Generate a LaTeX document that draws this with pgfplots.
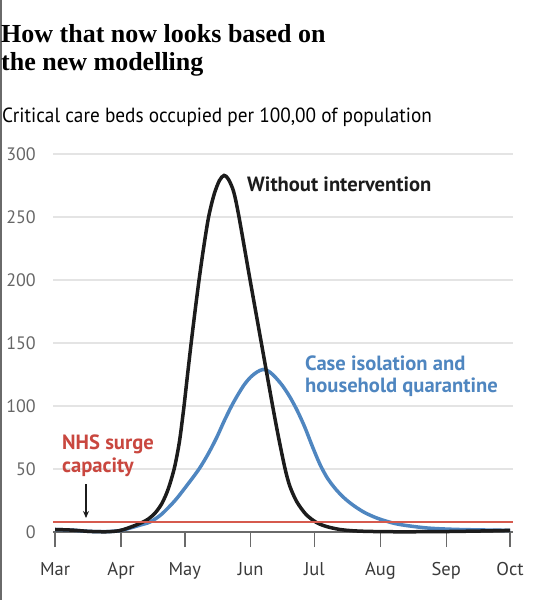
\documentclass[border=0pt]{standalone}
\usepackage{fontspec}
\setmainfont{Liberation Serif}
\newfontfamily\labfont[FakeStretch=0.94]{PT Sans}
\newfontfamily\labw{PT Sans}
\usepackage{pgfplots}
\pgfplotsset{compat=1.18}
\usetikzlibrary{arrows.meta}
\definecolor{cblue}{HTML}{4F86C0}
\definecolor{cred}{HTML}{D65A4E}
\definecolor{tred}{HTML}{C9473F}
\definecolor{cblack}{HTML}{1C1C1C}
\definecolor{tgrey}{HTML}{666666}
\definecolor{xgrey}{HTML}{3A3A3A}
\definecolor{ggrey}{HTML}{E4E4E4}
\definecolor{agrey}{HTML}{6A6A6A}
\begin{document}
\begin{tikzpicture}[x=1bp,y=1bp]
\path[use as bounding box] (0,0) rectangle (534,-600);
\fill[agrey] (0,0) rectangle (2,-600);
\node[anchor=base west,inner sep=0] at (1,-42.6) {\fontsize{26bp}{28bp}\selectfont\bfseries How that now looks based on};
\node[anchor=base west,inner sep=0] at (1,-70.5) {\fontsize{26bp}{28bp}\selectfont\bfseries the new modelling};
\node[anchor=base west,inner sep=0] at (2,-122.6) {\labfont\fontsize{20.5bp}{22bp}\selectfont Critical care beds occupied per 100,00 of population};
\begin{axis}[
  at={(53bp,-532bp)}, anchor=south west,
  scale only axis, width=460bp, height=378bp,
  xmin=-1, xmax=215.4, ymin=0, ymax=300,
  clip=false,
  axis x line*=bottom, axis y line*=left,
  y axis line style={draw=none},
  x axis line style={agrey, line width=1.5bp},
  xtick={0,31,61,92,122,153,184,214},
  xticklabels={Mar,Apr,May,Jun,Jul,Aug,Sep,Oct},
  ytick={0,50,100,150,200,250,300},
  ymajorgrids,
  grid style={ggrey, line width=1.5bp},
  tick align=outside,
  x tick style={agrey, line width=1.5bp},
  major tick length=15bp,
  y tick style={draw=none},
  /pgf/number format/assume math mode=true,
  yticklabel style={font=\labw\fontsize{18bp}{19bp}\selectfont, text=tgrey, anchor=east, inner sep=0pt, xshift=-2bp},
  xticklabel style={font=\labw\fontsize{18.5bp}{20bp}\selectfont, text=xgrey, anchor=north, inner sep=0pt, text height=13bp, text depth=0pt, yshift=-15bp},
]
\addplot[cblue, line width=3.5bp, smooth] coordinates {
(0,2) (8,1.5) (16,0.5) (24,0.3) (30,1) (35,3) (40,5.5) (44.7,8) (50,14) (56.4,25) (62,37) (67.7,50) (72,62) (76,75) (79.5,88) (83,100) (86,109) (89,117) (92,123) (95,127) (97.8,129) (100.5,127.5) (103.5,123) (107,116) (110.5,107) (114,96) (117.5,83) (121,68) (124.5,54) (128,43) (132,34) (136,27) (140,21.5) (145,16) (150,12) (155,9) (162,6) (175,3.2) (190,2) (214,1.3)
};
\addplot[cblack, line width=3.5bp, smooth] coordinates {
(0,2) (8,1.5) (16,0.5) (24,0.2) (30,1) (34,3) (38,5.5) (41.4,8) (44,10.5) (47,15) (50,22) (52.5,31) (54.5,41) (56.4,53) (58.5,72) (60.5,98) (62.3,125) (64,150) (65.8,175) (67.7,200) (69.8,225) (72.2,250) (74.8,268) (77.3,279) (79.5,283) (81.5,280) (84,270) (86.5,250) (91.5,202) (96.8,152) (102,103) (105,76) (108.2,50) (110.5,36) (113.7,24) (118,14) (123,7.5) (128,4.2) (134,2) (140,1) (147,0.5) (160,0.2) (180,0.3) (200,0.8) (214,1.3)
};
\addplot[cred, line width=2.8bp] coordinates {(-1,8) (215.4,8)};
\end{axis}
\node[anchor=base west,inner sep=0,text=cblack] at (247,-191) {\labw\fontsize{20.6bp}{22bp}\selectfont\bfseries Without intervention};
\node[anchor=base west,inner sep=0,text=cblue] at (305,-370) {\labw\fontsize{20.6bp}{22bp}\selectfont\bfseries Case isolation and};
\node[anchor=base west,inner sep=0,text=cblue] at (305,-392) {\labw\fontsize{20.6bp}{22bp}\selectfont\bfseries household quarantine};
\node[anchor=base west,inner sep=0,text=tred] at (62,-449) {\labw\fontsize{20.6bp}{22bp}\selectfont\bfseries NHS surge};
\node[anchor=base west,inner sep=0,text=tred] at (62,-472) {\labw\fontsize{20.6bp}{22bp}\selectfont\bfseries capacity};
\draw[cblack, line width=1.2bp, -{Stealth[length=7bp,width=6bp]}] (86,-484) -- (86,-518);
\end{tikzpicture}
\end{document}
